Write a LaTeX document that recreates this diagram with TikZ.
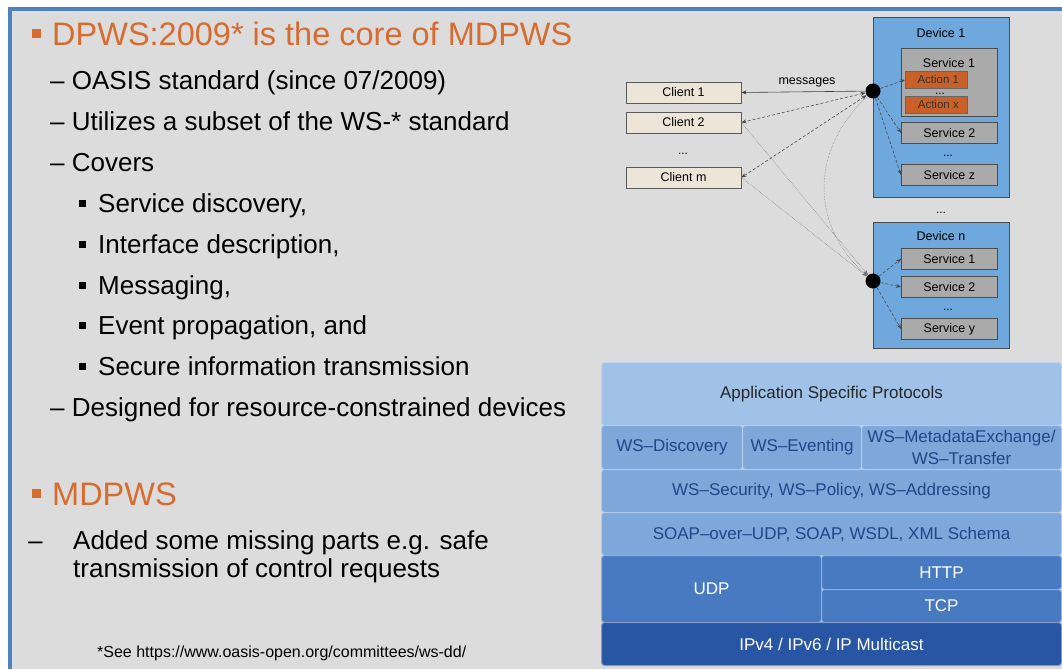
\documentclass[tikz,border=0pt]{standalone}
\usepackage{fontspec}
\setmainfont{Liberation Sans}
\usetikzlibrary{arrows.meta}
\definecolor{bg}{RGB}{220,220,220}
\definecolor{framec}{RGB}{79,129,189}
\definecolor{hdr}{RGB}{214,108,48}
\definecolor{devblue}{RGB}{111,168,220}
\definecolor{svcgray}{RGB}{170,170,170}
\definecolor{actor}{RGB}{200,96,40}
\definecolor{clientfill}{RGB}{237,229,215}
\definecolor{lA}{RGB}{160,194,232}
\definecolor{lB}{RGB}{126,167,218}
\definecolor{lC}{RGB}{72,122,194}
\definecolor{lD}{RGB}{40,86,164}
\definecolor{stacktxt}{RGB}{34,70,136}
\begin{document}
\begin{tikzpicture}[x=1pt,y=-1pt,
  hd/.style={text=hdr, font=\fontsize{32.5}{38}\selectfont, inner sep=0pt, anchor=base west},
  body/.style={text=black, font=\fontsize{26}{31}\selectfont, inner sep=0pt, anchor=base west},
  hbullet/.style={fill=hdr, minimum size=9pt, inner sep=0pt},
  sbullet/.style={fill=black, minimum size=7pt, inner sep=0pt},
  foot/.style={font=\fontsize{16}{19}\selectfont, inner sep=0pt, anchor=base west},
  dtext/.style={font=\fontsize{12.5}{15}\selectfont, inner sep=0pt},
  vdots/.style={font=\fontsize{12}{14}\selectfont, inner sep=0pt, text height=2pt, text depth=0pt, anchor=base},
  client/.style={draw=black!65, fill=clientfill, line width=0.8pt, minimum width=115pt, minimum height=21pt, inner sep=0pt, font=\fontsize{12.5}{15}\selectfont},
  device/.style={draw=black!70, fill=devblue, line width=0.9pt, inner sep=0pt, anchor=north west},
  service/.style={draw=black!70, fill=svcgray, line width=0.8pt, minimum width=96pt, minimum height=21pt, inner sep=0pt, anchor=north west, font=\fontsize{12.5}{15}\selectfont},
  action/.style={draw=black!60, fill=actor, line width=0.6pt, minimum width=62pt, minimum height=17pt, inner sep=0pt, anchor=north west, font=\fontsize{11.5}{14}\selectfont, text=black!80},
  hub/.style={circle, fill=black, minimum size=15pt, inner sep=0pt},
  conn/.style={black!70, line width=0.6pt, densely dashed, -{Stealth[length=5pt,width=4pt]}},
  conn2/.style={black!70, line width=0.6pt, densely dashed, {Stealth[length=5pt,width=4pt]}-{Stealth[length=5pt,width=4pt]}},
  thin/.style={black!55, line width=0.5pt, densely dotted, -{Stealth[length=5pt,width=4pt]}},
  layer/.style={rounded corners=3pt, line width=1pt, inner sep=0pt, anchor=north west, font=\fontsize{17}{20}\selectfont}
]
\useasboundingbox (0,0) rectangle (1062,669);
\fill[white] (0,0) rectangle (1062,669);
\fill[bg] (10,9) rectangle (1062,669);
\draw[framec, line width=4pt] (8,9) -- (1062,9);
\draw[framec, line width=4pt] (10,7) -- (10,669);

% ---------- left text ----------
\node[hbullet] (b1) at (36,34) {};
\node[hd] (h1) at (52,46) {DPWS:2009* is the core of MDPWS};
\node[body] (t1) at (50,89) {– OASIS standard (since 07/2009)};
\node[body] (t2) at (50,130) {– Utilizes a subset of the WS-* standard};
\node[body] (t3) at (50,171) {– Covers};
\node[sbullet] (sb1) at (82,203) {};
\node[body] (u1) at (98,212) {Service discovery,};
\node[sbullet] (sb2) at (82,244) {};
\node[body] (u2) at (98,253) {Interface description,};
\node[sbullet] (sb3) at (82,285) {};
\node[body] (u3) at (98,294) {Messaging,};
\node[sbullet] (sb4) at (82,325) {};
\node[body] (u4) at (98,334) {Event propagation, and};
\node[sbullet] (sb5) at (82,366) {};
\node[body] (u5) at (98,375) {Secure information transmission};
\node[body] (t4) at (50,416) {– Designed for resource-constrained devices};

\node[hbullet] (b2) at (36,493) {};
\node[hd] (h2) at (52,505) {MDPWS};
\node[body] (d1) at (28,549) {–};
\node[body] (m1) at (73,549) {Added some missing parts e.g. safe};
\node[body] (m2) at (73,577) {transmission of control requests};

\node[foot] (fn) at (97,657) {*See https://www.oasis-open.org/committees/ws-dd/};

% ---------- clients ----------
\node[client] (c1) at (683.5,92.5) {Client 1};
\node[client] (c2) at (683.5,122.5) {Client 2};
\node[vdots] (cdots) at (683,154) {...};
\node[client] (cm) at (683.5,177.5) {Client m};

% ---------- device 1 ----------
\node[device, minimum width=136pt, minimum height=180pt] (dev1) at (873,17) {};
\node[dtext] (dev1t) at (941,33) {Device 1};
\node[service, minimum height=68pt] (s11) at (901,48) {};
\node[dtext] (s11t) at (949,63) {Service 1};
\node[action] (a1) at (905,71) {\hspace{4pt}Action 1\hfill};
\node[vdots] (adots) at (940,94) {...};
\node[action] (ax) at (905,96) {\hspace{4pt}Action x\hfill};
\node[service] (s12) at (901,122) {Service 2};
\node[vdots] (sdots1) at (948,156) {...};
\node[service] (s1z) at (901,164) {Service z};
\node[hub] (hub1) at (873,91) {};

\node[vdots] (devdots) at (941,213) {...};

% ---------- device n ----------
\node[device, minimum width=136pt, minimum height=126pt] (devn) at (873,222) {};
\node[dtext] (devnt) at (941,236) {Device n};
\node[service] (sn1) at (901,248) {Service 1};
\node[service] (sn2) at (901,276) {Service 2};
\node[vdots] (sdots2) at (948,310) {...};
\node[service] (sny) at (901,318) {Service y};
\node[hub] (hubn) at (873,281) {};

\node[dtext] (msg) at (807,82) {messages};

% ---------- connectors ----------
\draw[black!75, line width=0.6pt, -{Stealth[length=5pt,width=4pt]}] (hub1) -- (c1.east);
\draw[conn2] (hub1) -- (c2.east);
\draw[conn2] (hub1) -- (cm.east);
\draw[thin] (c2.east) -- (hubn);
\draw[thin] (cm.east) -- (hubn);
\draw[thin] (hub1) .. controls (810,150) and (810,225) .. (hubn);
\draw[conn] (hub1) -- (a1.west);
\draw[conn] (hub1) -- (s12.west);
\draw[conn] (hub1) -- (s1z.west);
\draw[conn] (hubn) -- (sn1.west);
\draw[conn] (hubn) -- (sn2.west);
\draw[conn] (hubn) -- (sny.west);

% ---------- protocol stack ----------
\node[layer, fill=lA, draw=lA!70!white, minimum width=460pt, minimum height=63pt, text=black!85] (app) at (601,362) {Application Specific Protocols};
\node[layer, fill=lB, draw=lB!60!white, minimum width=141pt, minimum height=44pt, text=stacktxt] (wsd) at (601,425) {WS–Discovery};
\node[layer, fill=lB, draw=lB!60!white, minimum width=119pt, minimum height=44pt, text=stacktxt] (wse) at (742,425) {WS–Eventing};
\node[layer, fill=lB, draw=lB!60!white, minimum width=200pt, minimum height=44pt, text=stacktxt, align=center, font=\fontsize{17}{22}\selectfont] (wsm) at (861,425) {WS–MetadataExchange/\\WS–Transfer};
\node[layer, fill=lB, draw=lB!60!white, minimum width=460pt, minimum height=43pt, text=stacktxt] (wss) at (601,469) {WS–Security, WS–Policy, WS–Addressing};
\node[layer, fill=lB, draw=lB!60!white, minimum width=460pt, minimum height=43pt, text=stacktxt] (soap) at (601,512) {SOAP–over–UDP, SOAP, WSDL, XML Schema};
\node[layer, fill=lC, draw=lC!60!white, minimum width=220pt, minimum height=67pt, text=white] (udp) at (601,555) {UDP};
\node[layer, fill=lC, draw=lC!60!white, minimum width=240pt, minimum height=34pt, text=white] (http) at (821,555) {HTTP};
\node[layer, fill=lC, draw=lC!60!white, minimum width=240pt, minimum height=33pt, text=white] (tcp) at (821,589) {TCP};
\node[layer, fill=lD, draw=lD!60!white, minimum width=460pt, minimum height=43pt, text=white] (ip) at (601,622) {IPv4 / IPv6 / IP Multicast};
\end{tikzpicture}
\end{document}
